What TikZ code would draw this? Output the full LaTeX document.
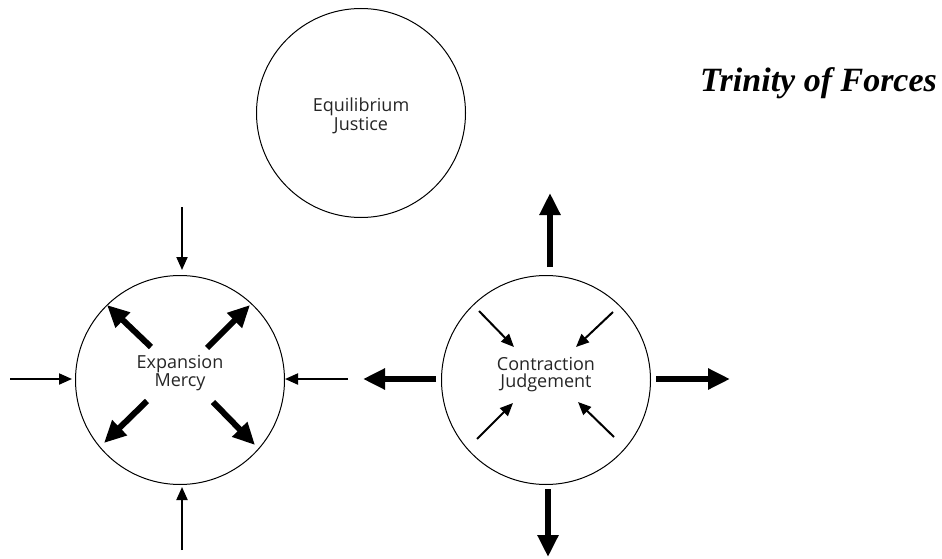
\documentclass[tikz,border=0pt]{standalone}
\usepackage{fontspec}
\setmainfont{Open Sans}
\newfontfamily\titlefont{Liberation Serif}
\usetikzlibrary{arrows.meta,calc}

\tikzset{
  force/.style={circle, draw=black, line width=1pt, minimum size=209pt, inner sep=0pt},
  forcelabel/.style={align=center, font=\fontsize{18}{17}\selectfont, text=black!85, inner sep=0pt},
  thinarrow/.style={line width=2pt, -{Triangle[width=11pt,length=13pt]}},
  thickarrow/.style={line width=6pt, -{Triangle[width=20pt,length=22pt]}},
}

\begin{document}
\begin{tikzpicture}[x=1pt,y=-1pt]
  \useasboundingbox[fill=white] (0,0) rectangle (942,559);

  % the three forces
  \node[force] (equi) at (361,113) {};
  \node[force] (expa) at (180,380) {};
  \node[force] (cont) at (546,380) {};

  \node[forcelabel] (equitext) at (361,116) {Equilibrium\\Justice};
  \node[forcelabel] (expatext) at (180,373) {Expansion\\Mercy};
  \node[forcelabel] (conttext) at (546,375) {Contraction\\Judgement};

  \node[anchor=base west, inner sep=0pt, font=\titlefont\bfseries\itshape\fontsize{34}{40}\selectfont]
    (title) at (700,92) {Trinity of Forces};

  % expansion: pushed in from outside, pushing out from within
  \draw[thinarrow] ($(expa)+(2,-173)$) -- ($(expa)+(2,-110)$);
  \draw[thinarrow] ($(expa)+(2,170)$) -- ($(expa)+(2,107)$);
  \draw[thinarrow] ($(expa)+(-170,-1)$) -- ($(expa)+(-108,-1)$);
  \draw[thinarrow] ($(expa)+(168,-1)$) -- ($(expa)+(105,-1)$);

  \draw[thickarrow] ($(expa)+(-29,-33)$) -- ($(expa)+(-73,-75)$);
  \draw[thickarrow] ($(expa)+(27,-32)$) -- ($(expa)+(70,-75)$);
  \draw[thickarrow] ($(expa)+(-33,21)$) -- ($(expa)+(-76,63)$);
  \draw[thickarrow] ($(expa)+(33,22)$) -- ($(expa)+(75,65)$);

  % contraction: pulling in from within, driving out beyond
  \draw[thickarrow] ($(cont)+(4,-113)$) -- ($(cont)+(4,-187)$);
  \draw[thickarrow] ($(cont)+(2,109)$) -- ($(cont)+(2,177)$);
  \draw[thickarrow] ($(cont)+(-110,-1)$) -- ($(cont)+(-183,-1)$);
  \draw[thickarrow] ($(cont)+(110,-1)$) -- ($(cont)+(184,-1)$);

  \draw[thinarrow] ($(cont)+(-67,-69)$) -- ($(cont)+(-32,-33)$);
  \draw[thinarrow] ($(cont)+(67,-68)$) -- ($(cont)+(30,-33)$);
  \draw[thinarrow] ($(cont)+(-69,59)$) -- ($(cont)+(-33,23)$);
  \draw[thinarrow] ($(cont)+(68,57)$) -- ($(cont)+(32,22)$);
\end{tikzpicture}
\end{document}
